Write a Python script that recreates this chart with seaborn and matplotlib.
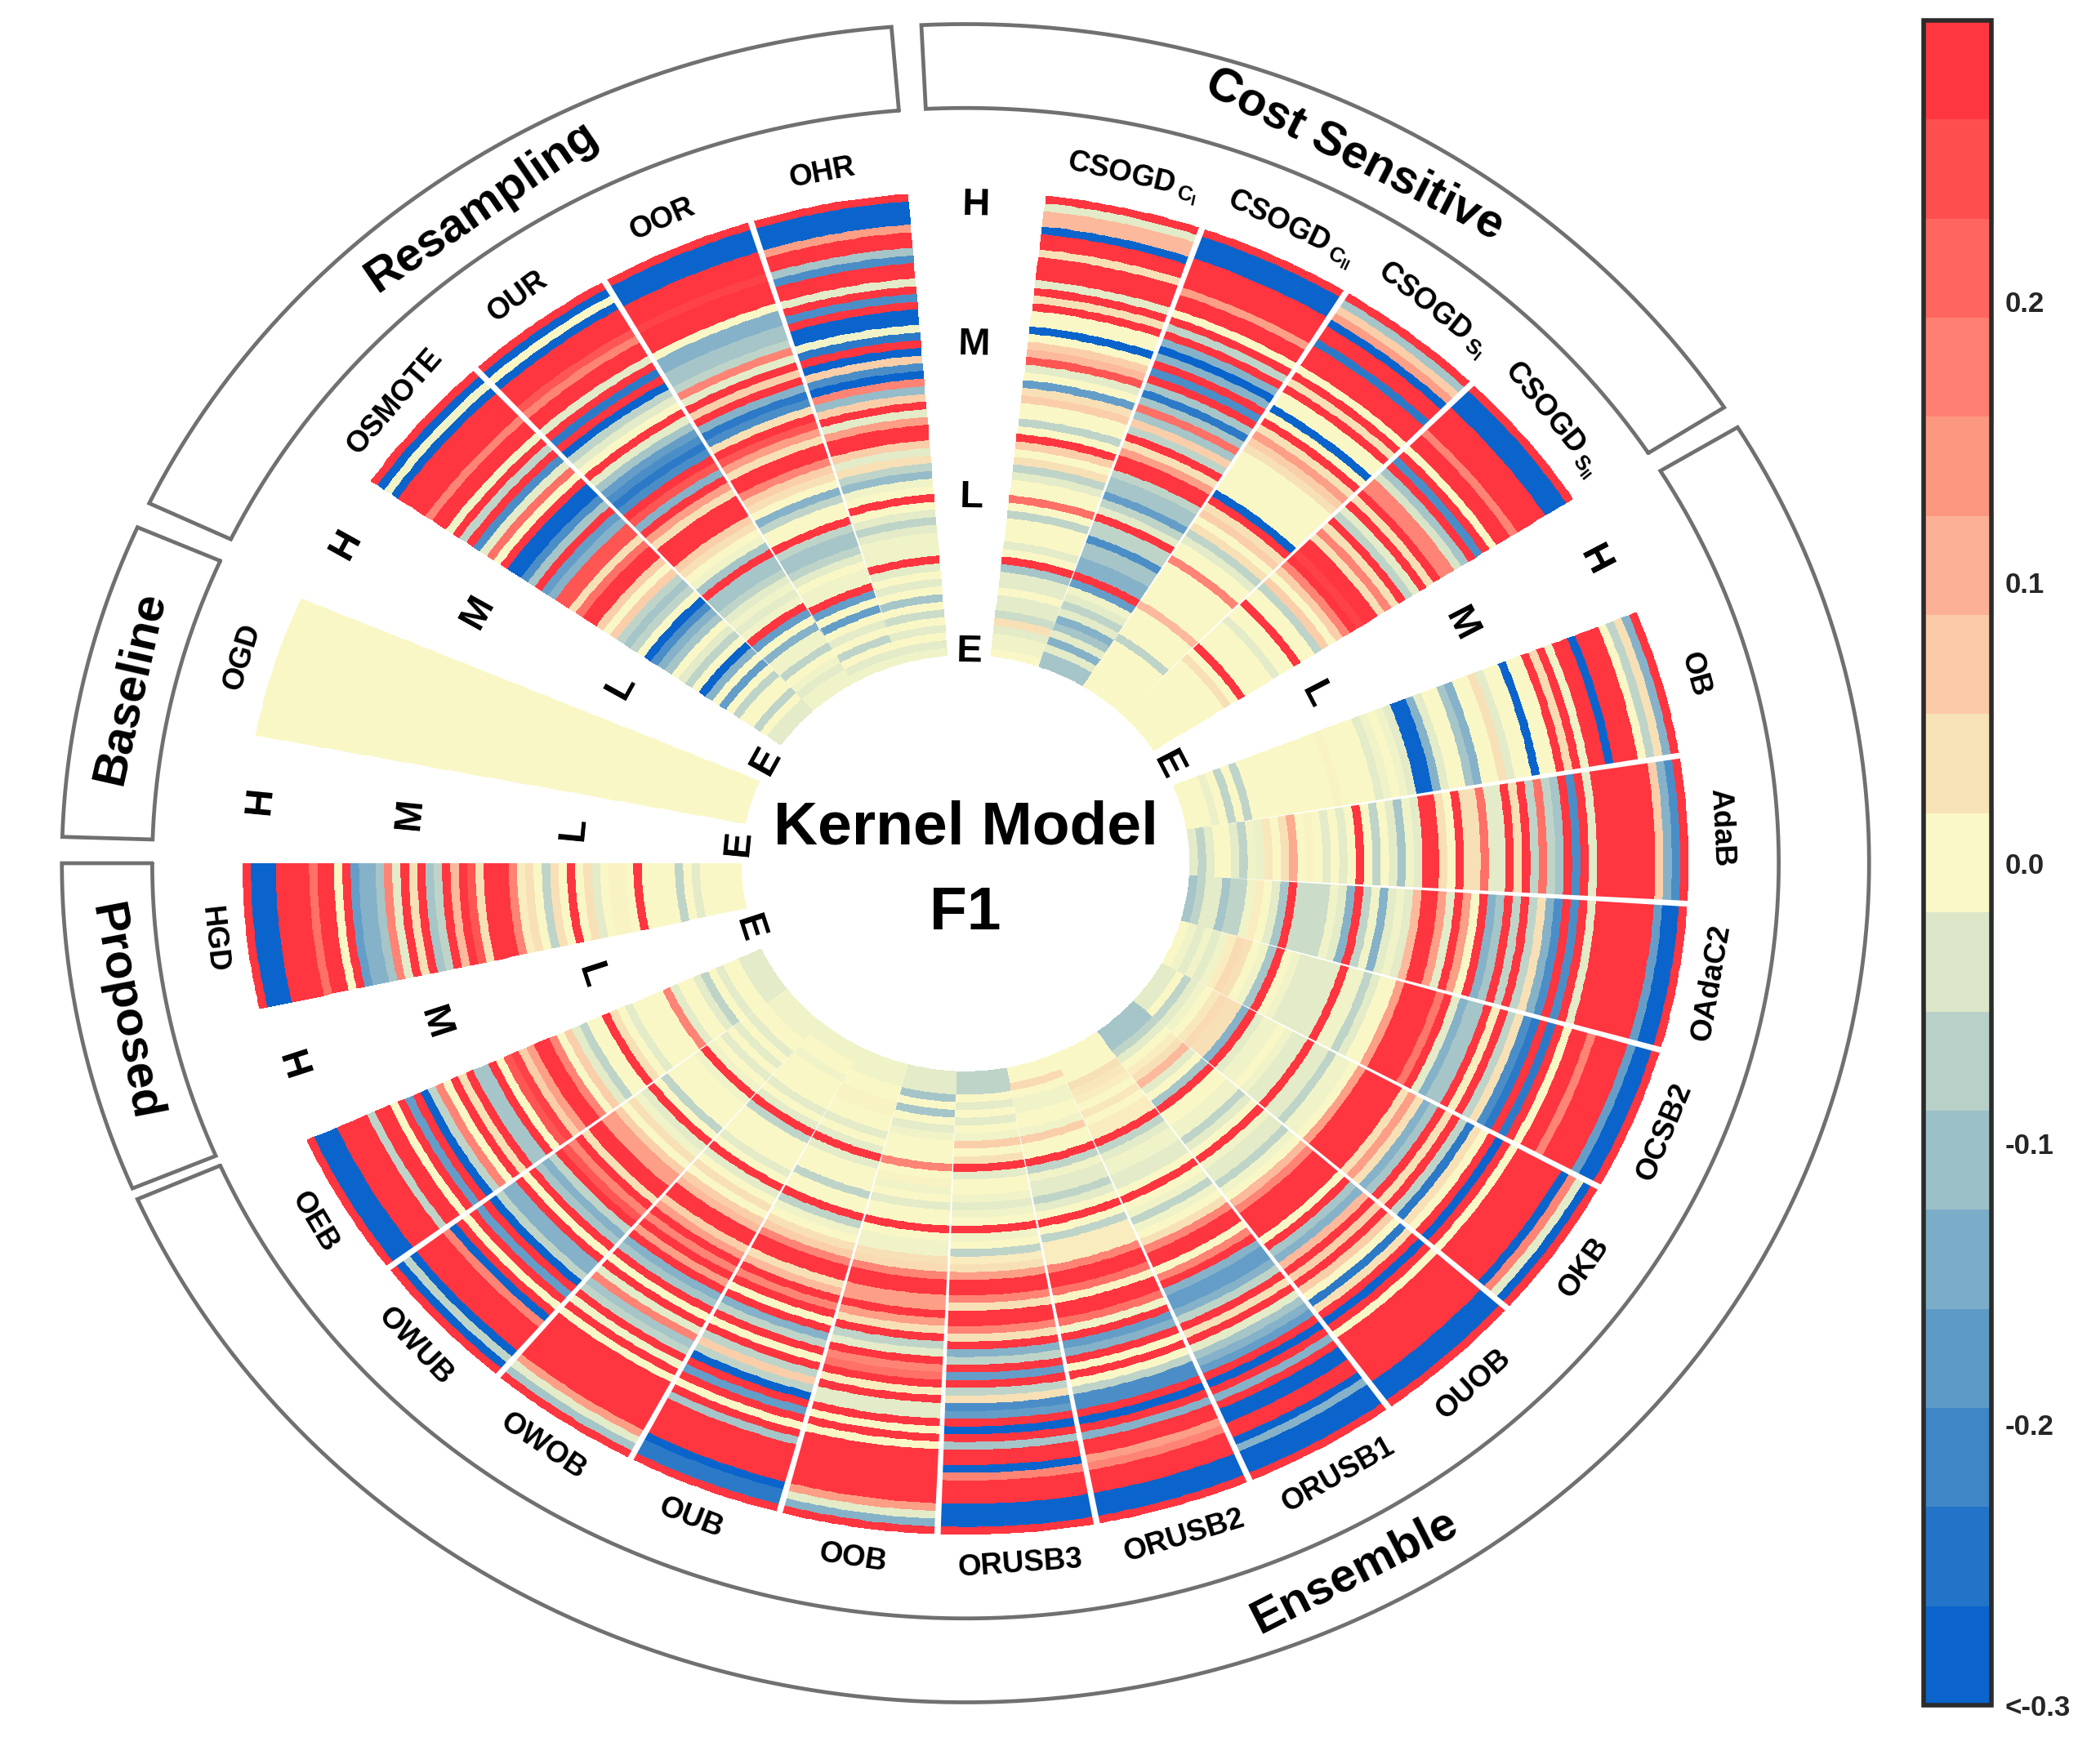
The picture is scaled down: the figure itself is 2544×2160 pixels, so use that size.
import numpy as np
import matplotlib
matplotlib.use('Agg')
import matplotlib.pyplot as plt
from matplotlib.cm import ScalarMappable
from matplotlib.colors import BoundaryNorm, ListedColormap
import seaborn as sns

sns.set_theme(style='white')
plt.rcParams['font.family'] = ['Liberation Sans', 'DejaVu Sans']
plt.rcParams['font.weight'] = 'bold'
plt.rcParams['mathtext.fontset'] = 'custom'
plt.rcParams['mathtext.bf'] = 'Liberation Sans:bold'
plt.rcParams['mathtext.rm'] = 'Liberation Sans:bold'

# colour steps of the bar, bottom to top
level_colors = ['#0A64CC', '#2374C8', '#3F86C6', '#5E9AC8', '#7CADC8', '#9CC0C8',
                '#B8D0C8', '#DCE6C8', '#FAF8C8', '#F8E2B8', '#FBCAA8', '#FCB095',
                '#FD9880', '#FF7F72', '#FF6660', '#FF4E4E', '#FF3640']
# rings fade a little softer just under zero
ring_colors = level_colors[:7] + ['#E8EEC8'] + level_colors[8:]

# every list runs from the outer ring to the inner ring (60 rings)
HGD = [.3, -.3, -.3, -.3, .3, .3, .3, .3, .21, .3,
       .3, 0, .3, -.18, -.14, -.14, -.1, .18, -.04, .3,
       .04, .3, -.1, -.07, .3, .1, .3, .25, .04, .3,
       .3, .3, .18, .02, .04, 0, -.07, .04, 0, .3,
       0, .04, -.04, 0, .01, .01, 0, .3, 0, 0,
       0, 0, -.07, 0, -.04, 0, 0, 0, 0, 0]
OGD = [0, 0, 0, 0, 0, 0, 0, 0, 0, 0,
       0, 0, 0, 0, 0, 0, 0, 0, 0, 0,
       0, 0, 0, 0, 0, 0, 0, 0, 0, 0,
       0, 0, 0, 0, 0, 0, 0, 0, 0, 0,
       0, 0, 0, 0, 0, 0, 0, 0, 0, 0,
       0, 0, 0, 0, 0, 0, 0, 0, 0, 0]
OSMOTE = [.3, -.3, -.02, -.3, .3, .3, .3, .3, .18, .3,
          .3, -.02, .3, -.07, .3, -.21, -.04, .21, 0, .3,
          -.3, -.3, -.21, -.1, .3, -.18, -.14, .25, .25, .04,
          .21, .3, .3, .07, 0, .07, -.07, -.1, -.07, 0,
          -.3, -.21, -.14, -.1, 0, -.04, -.07, 0, -.3, -.14,
          0, -.18, 0, -.07, 0, 0, -.07, 0, -.04, -.04]
OUR = [.3, -.3, 0, -.3, .3, .3, .3, .25, .18, .3,
       .3, -.04, .3, -.25, .3, -.3, -.07, -.04, 0, .3,
       -.04, -.1, -.18, -.21, -.25, -.21, .3, .25, -.14, .3,
       .14, .04, .3, .3, .3, .07, .04, 0, -.02, -.1,
       .3, -.1, -.1, -.07, -.04, -.02, -.04, -.02, .3, -.18,
       0, -.14, -.02, -.02, -.07, 0, -.02, -.04, -.02, -.02]
OOR = [.3, -.3, -.3, -.3, .3, .3, .3, .28, .3, .3,
       .3, 0, -.14, -.14, -.1, -.1, -.07, .18, -.04, .3,
       .07, .3, -.14, -.25, -.21, .04, .3, .25, .14, .04,
       .3, .3, .18, .07, .04, 0, -.14, -.07, 0, 0,
       .3, -.07, -.1, -.1, -.07, -.04, 0, -.02, -.02, .3,
       -.18, 0, -.18, 0, -.04, 0, -.07, 0, -.04, -.02]
OHR = [.3, -.3, -.3, -.3, .14, .3, .3, -.1, -.21, .3,
       .3, -.04, .3, -.21, .3, -.3, -.3, -.02, -.25, .3,
       -.3, .07, -.21, -.3, .18, -.12, .07, .3, -.04, .14,
       .3, .3, .07, -.04, .04, -.07, -.12, -.02, 0, .3,
       0, -.04, -.07, -.04, -.02, -.02, -.02, .3, -.04, 0,
       -.04, 0, -.1, 0, -.06, 0, -.04, 0, -.04, -.02]
CSOGD_CI = [.3, -.04, .1, .1, -.3, .3, .3, .04, .3, .3,
            .3, -.04, .3, .04, .3, 0, 0, -.3, 0, .07,
            .1, .25, -.04, 0, -.18, .04, .07, 0, 0, -.07,
            0, .3, .07, 0, .04, -.07, -.04, 0, 0, .21,
            0, -.07, 0, 0, 0, -.04, 0, .3, -.1, -.04,
            -.04, 0, -.04, -.04, -.06, .04, -.04, -.02, -.02, 0]
CSOGD_CII = [.3, -.3, -.3, -.3, .3, .3, .3, .3, .14, .3,
             .3, 0, .3, -.07, .3, -.14, -.3, -.14, .3, -.21,
             .3, -.1, -.25, -.1, .21, -.1, .07, -.07, .3, .04,
             .14, .3, .3, -.07, -.1, -.1, -.18, -.07, -.04, .3,
             -.07, -.07, -.21, -.1, -.1, -.14, -.14, .3, -.18, -.02,
             -.04, -.07, -.04, -.14, -.1, -.04, -.14, -.04, -.1, -.1]
CSOGD_SI = [.3, -.1, .07, .14, -.3, .3, .3, -.25, .3, .3,
            .3, 0, .3, .04, .3, 0, 0, -.3, 0, .3,
            .04, .14, .07, .04, 0, 0, 0, 0, 0, 0,
            -.3, .3, .04, .07, 0, .04, -.07, -.04, 0, 0,
            .18, 0, 0, 0, 0, 0, 0, .1, 0, 0,
            0, 0, -.07, 0, 0, 0, 0, 0, 0, 0]
CSOGD_SII = [.3, -.3, -.3, -.3, .3, .3, .3, .3, .18, .3,
             .3, 0, .3, -.21, .3, -.1, -.05, .18, .18, .3,
             .04, .3, -.04, -.07, .3, .04, .18, .04, .3, .3,
             .28, .3, .18, .07, 0, .07, -.07, 0, 0, .3,
             0, 0, -.04, 0, 0, 0, 0, .3, 0, .04,
             0, 0, 0, 0, 0, 0, 0, 0, 0, 0]
OB = [.3, -.14, .04, -.07, 0, .3, .3, .3, -.3, .3,
      .3, -.02, .3, .05, .3, 0, 0, -.3, 0, 0,
      -.04, .04, 0, 0, -.14, -.1, 0, 0, -.04, -.14,
      -.3, -.3, -.04, -.02, 0, -.02, -.04, 0, 0, 0,
      0, .01, 0, 0, 0, 0, 0, 0, 0, 0,
      0, 0, -.07, 0, -.07, 0, -.03, 0, 0, 0]
AdaB = [.3, -.21, -.14, .07, .3, .3, .3, .3, .3, .3,
        .3, -.04, .3, -.21, .3, -.1, -.07, .21, -.07, .3,
        .04, .3, -.04, -.04, .21, .04, .04, .3, 0, .04,
        .3, .3, -.04, -.02, -.1, -.04, 0, -.07, 0, .3,
        0, -.04, 0, -.04, 0, .01, 0, .12, .04, 0,
        .03, -.03, -.02, -.07, -.04, 0, 0, -.04, -.07, -.04]
OAdaC2 = [.3, -.3, -.3, -.18, .3, .3, .3, .3, .3, .3,
          .3, -.04, .3, -.21, .3, -.21, -.14, .04, -.07, .3,
          -.07, .3, -.1, -.14, .3, 0, .14, .3, -.04, .14,
          .3, .3, .1, -.04, -.02, -.04, -.14, -.02, -.07, .3,
          -.14, -.04, -.02, -.06, -.06, -.06, -.06, .3, -.1, -.04,
          0, .02, -.02, -.07, -.07, -.1, -.04, -.04, -.07, -.1]
OCSB2 = [.3, -.3, -.3, -.18, .3, .3, .3, .3, .18, .3,
         .3, 0, .3, -.25, .3, -.25, -.21, .04, -.07, .3,
         .02, .3, -.1, -.1, -.14, -.04, .3, .2, .3, .3,
         .3, .3, .14, 0, 0, -.04, -.07, -.02, -.02, .3,
         -.04, -.04, -.04, -.04, -.04, -.02, 0, .3, -.1, -.02,
         0, .04, .05, .02, -.02, -.04, -.02, -.04, -.02, 0]
OKB = [.3, -.3, -.04, .18, -.3, .3, .3, .3, .3, .3,
       .3, 0, .3, -.3, .3, 0, .04, -.25, -.07, .3,
       .04, .3, -.1, -.14, .04, .14, .04, .3, .3, .3,
       .3, .3, .14, 0, -.02, -.02, -.07, -.04, -.04, .3,
       -.04, -.04, -.02, 0, -.02, -.02, -.04, .3, -.14, .04,
       .04, .05, .03, 0, -.02, -.04, -.07, 0, -.04, -.04]
OUOB = [.3, -.3, -.3, -.3, .3, .3, .3, .3, .3, .3,
        .3, 0, .3, -.3, .3, .04, -.25, 0, .07, .3,
        .07, .3, .1, -.14, -.1, .3, 0, .3, .3, .3,
        .3, .18, .1, 0, -.02, -.07, -.04, -.04, -.02, .3,
        0, -.04, -.07, -.02, -.02, 0, 0, .3, -.1, 0,
        -.04, .1, .04, .02, 0, -.04, -.07, -.1, -.1, -.1]
ORUSB1 = [.3, -.3, -.3, -.3, -.14, -.3, .3, .3, -.3, -.3,
          .3, -.14, .3, -.3, .3, -.18, -.14, -.1, -.04, .3,
          .04, .3, -.07, -.14, -.18, -.18, -.14, .3, .18, 0,
          .3, .3, .18, .04, 0, -.02, -.07, -.02, 0, .3,
          0, -.04, -.04, -.02, -.02, -.04, -.07, .3, .02, .02,
          0, .03, 0, .02, .03, .04, 0, 0, 0, 0]
ORUSB2 = [.3, -.3, -.3, -.3, .3, .3, .3, .18, .14, .3,
          .3, -.14, .3, -.3, .3, -.21, -.21, -.07, 0, .3,
          0, .3, -.14, -.18, .3, -.02, .21, .3, .3, .01,
          .21, .3, .3, .18, .02, .02, .02, -.07, 0, .3,
          0, -.04, -.07, -.04, -.04, -.02, -.07, .3, 0, 0,
          .07, -.02, 0, 0, -.02, -.02, 0, .05, 0, 0]
ORUSB3 = [.3, -.3, -.3, -.3, .3, .3, .3, .18, -.3, .3,
          .3, -.1, .3, -.3, .3, -.18, -.21, .04, -.07, .3,
          -.18, .3, -.07, -.14, .3, .04, .18, .3, .3, .04,
          .18, .3, .3, .14, .04, .02, -.07, 0, -.02, .3,
          0, -.02, -.04, -.02, 0, 0, -.04, .3, .04, 0,
          .07, -.02, 0, -.04, 0, -.04, 0, -.07, -.07, -.07]
OOB = [.3, -.14, -.04, .14, .3, .3, .3, .3, .3, .3,
       .3, 0, .3, 0, .3, -.04, -.04, .3, .02, .3,
       .21, .18, .3, -.04, -.07, .3, .04, .14, .3, .14,
       .14, .3, .3, .18, .05, .04, -.02, -.02, 0, .3,
       0, 0, -.04, 0, -.02, .01, 0, .18, 0, 0,
       0, -.02, -.04, 0, -.1, 0, -.1, -.04, -.04, -.04]
OUB = [.3, -.25, -.25, -.3, .3, .3, .3, .3, .3, -.1,
       .3, 0, .3, -.18, .3, -.3, -.07, .07, -.07, .3,
       0, .3, -.07, -.14, .3, 0, .3, .18, .3, .1,
       .04, .3, .3, .18, .07, .04, 0, -.02, -.07, .3,
       0, 0, -.07, 0, 0, 0, -.04, .3, -.04, 0,
       -.04, 0, 0, .01, .01, 0, 0, -.02, -.02, -.02]
OWOB = [.3, -.1, -.04, .14, .3, .3, .3, .3, .3, .3,
        .3, 0, .3, -.02, .3, -.07, -.1, .18, -.04, .3,
        0, .3, -.1, -.14, .3, .14, .3, .18, .3, .14,
        .07, .3, .3, .1, .07, 0, .04, 0, -.04, .3,
        0, -.04, 0, 0, 0, 0, -.07, .3, -.04, 0,
        -.04, 0, 0, 0, 0, -.02, 0, 0, -.02, -.02]
OWUB = [.3, -.3, -.07, -.3, .3, .3, .3, .3, .18, -.3,
        .3, 0, .3, -.18, .3, -.3, -.07, -.14, -.14, .3,
        0, .3, -.1, -.14, -.07, .3, .25, .18, .3, .04,
        .3, .3, .14, .14, .07, 0, .04, -.02, -.04, .3,
        0, -.07, 0, 0, 0, 0, -.02, .3, -.02, 0,
        -.04, 0, -.04, 0, -.04, 0, 0, -.02, -.02, -.02]
OEB = [.3, -.3, -.3, -.3, .3, .3, .3, .3, -.07, .3,
       .3, 0, .3, -.18, .3, -.3, -.07, .18, 0, .3,
       .04, .3, -.1, -.1, .3, 0, .25, .28, .07, .14,
       .3, .3, .18, 0, .07, -.04, -.07, 0, 0, .3,
       .04, 0, -.04, 0, 0, 0, 0, .18, -.04, 0,
       0, -.04, -.07, 0, -.04, 0, 0, -.04, -.04, -.04]

groups = ['Proposed', 'Baseline', 'Resampling', 'Cost Sensitive', 'Ensemble']
group_methods = [
    [('HGD', HGD)],
    [('OGD', OGD)],
    [('OSMOTE', OSMOTE), ('OUR', OUR), ('OOR', OOR), ('OHR', OHR)],
    [(r'$\mathbf{CSOGD_{\,C_{I}}}$', CSOGD_CI), (r'$\mathbf{CSOGD_{\,C_{II}}}$', CSOGD_CII),
     (r'$\mathbf{CSOGD_{\,S_{I}}}$', CSOGD_SI), (r'$\mathbf{CSOGD_{\,S_{II}}}$', CSOGD_SII)],
    [('OB', OB), ('AdaB', AdaB), ('OAdaC2', OAdaC2), ('OCSB2', OCSB2), ('OKB', OKB),
     ('OUOB', OUOB), ('ORUSB1', ORUSB1), ('ORUSB2', ORUSB2), ('ORUSB3', ORUSB3),
     ('OOB', OOB), ('OUB', OUB), ('OWOB', OWOB), ('OWUB', OWUB), ('OEB', OEB)],
]
levels = ['H', 'M', 'L', 'E']
cbar_ticks = [-0.3, -0.2, -0.1, 0.0, 0.1, 0.2]
cbar_labels = ['<-0.3', '-0.2', '-0.1', '0.0', '0.1', '0.2']

# layout, degrees
group_start = [192.5, 169.0, 145.3, 83.6, 21.9]
sector_width = 12.68
frame_span = [(180.0, 202.8), (156.4, 178.2), (94.7, 154.6), (32.9, 92.8), (-156.4, 31.3)]
label_angle = [190.8, 167.3, 124.4, 63.0, -63.0]
gap_angle = [89.1, 27.4, 151.0, 174.5, 198.0]
r_in, r_out = 0.31, 1.0
r_max = 1.27

W, H = 2544, 2160
cx, cy, rx, ry = 1182, 1057, 885, 822
fig = plt.figure(figsize=(W / 200, H / 200), dpi=200)
ax = fig.add_axes([(cx - rx * r_max) / W, 1 - (cy + ry * r_max) / H,
                   2 * rx * r_max / W, 2 * ry * r_max / H], projection='polar')
ax.set_aspect('auto')

cmap = sns.blend_palette(ring_colors, as_cmap=True)
r_edges = np.linspace(r_out, r_in, 61)


def flip(t):
    # text stays upright: bottom half is turned over
    t = (t + 180) % 360 - 180
    return t + 90 if t < 0 else t - 90


for start, methods in zip(group_start, group_methods):
    for i, (name, values) in enumerate(methods):
        assert len(values) == 60, name
        t1 = start - i * sector_width
        t0 = t1 - (12.5 if name == 'HGD' else 12.2 if name == 'OGD' else sector_width)
        theta = np.deg2rad(np.linspace(t0, t1, 25))
        col = np.tile(np.array(values)[:, None], (1, 24))
        ax.pcolormesh(theta, r_edges, col, cmap=cmap, vmin=-0.3, vmax=0.3,
                      shading='flat', antialiased=False, linewidth=0)
        mid = (t0 + t1) / 2
        ax.text(np.deg2rad(mid), 1.047, name, rotation=flip(mid), rotation_mode='anchor',
                ha='center', va='center', fontsize=13.2, fontweight='bold', color='black')
        if i > 0:
            e = np.deg2rad(t1)
            d = np.deg2rad(0.25)
            ax.fill([e, e - d, e + d], [r_in + 0.03, r_out + 0.004, r_out + 0.004],
                    color='white', lw=0, zorder=3)

for (a, b), name, t in zip(frame_span, groups, label_angle):
    arc = np.deg2rad(np.linspace(a, b, 200))
    ax.plot(np.r_[arc, arc[::-1], arc[0]],
            np.r_[np.full(200, 1.125), np.full(200, 1.25), 1.125],
            color='#707070', lw=1.7, solid_joinstyle='miter')
    ax.text(np.deg2rad(t), 1.185, name, rotation=flip(t), rotation_mode='anchor',
            ha='center', va='center', fontsize=21, fontweight='bold', color='black')

for t in gap_angle:
    for name, r in zip(levels, [0.98, 0.772, 0.545, 0.315]):
        ax.text(np.deg2rad(t), r, name, rotation=flip(t), rotation_mode='anchor',
                ha='center', va='center', fontsize=17, fontweight='bold', color='black')

ax.set_rlim(0, r_max)
ax.axis('off')

fig.text(cx / W, 1 - 1014 / H, 'Kernel Model', ha='center', va='center',
         fontsize=27, fontweight='bold', color='black')
fig.text(cx / W, 1 - 1119 / H, 'F1', ha='center', va='center',
         fontsize=27, fontweight='bold', color='black')

# colour bar
cax = fig.add_axes([2355 / W, 1 - 2088 / H, 83 / W, 2063 / H])
bounds = np.linspace(-0.3, 0.3, 18)
sm = ScalarMappable(norm=BoundaryNorm(bounds, 17), cmap=ListedColormap(sns.color_palette(level_colors)))
cb = fig.colorbar(sm, cax=cax, boundaries=bounds, spacing='proportional', ticks=cbar_ticks)
cb.minorticks_off()
cb.ax.set_yticklabels(cbar_labels, fontsize=12.5, fontweight='bold', color='#262626')
cb.ax.tick_params(axis='y', direction='in', length=4, width=0.9, color='#262626', pad=6, right=True)
cb.outline.set_edgecolor('#2b2b2b')
cb.outline.set_linewidth(2)

fig.savefig('out.png', dpi=200)
